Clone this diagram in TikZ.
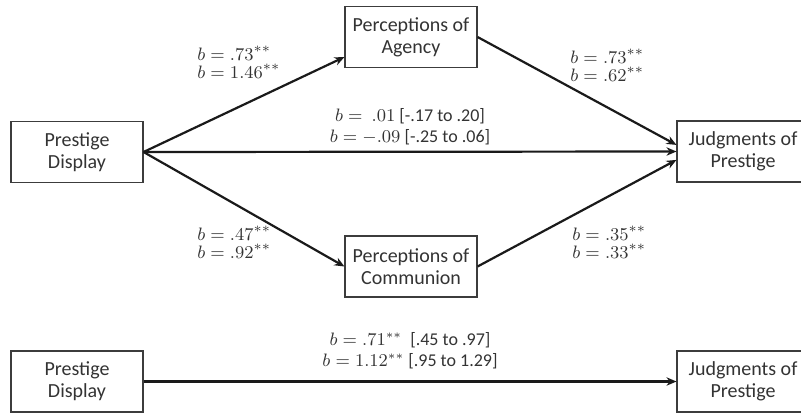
\documentclass[tikz,border=0pt]{standalone}
\usepackage[no-math]{fontspec}
\setmainfont{Carlito}
\usepackage{amsmath}
\usetikzlibrary{arrows.meta,positioning,calc}
\definecolor{pathln}{HTML}{1A1A1A}
\definecolor{boxln}{HTML}{3C3C3C}
\definecolor{boxtx}{HTML}{333333}
\begin{document}
\begin{tikzpicture}[x=0.5pt,y=-0.5pt,>=Stealth,
  var/.style={draw=boxln,line width=0.55pt,minimum width=66pt,minimum height=30.5pt,
    align=center,inner sep=0pt,text=boxtx,font=\fontsize{10}{11}\selectfont},
  ed/.style={->,pathln,line width=1.1pt,-{Stealth[length=5pt,width=4.2pt]}},
  lb/.style={inner sep=1pt,text=boxtx,font=\fontsize{9.5}{9}\selectfont},
  ci/.style={inner sep=1pt,text=boxtx,font=\fontsize{9}{10.5}\selectfont,align=center}]
\useasboundingbox (0,0) rectangle (801,413);
% upper panel: mediation model
\node[var] (pd) at (77,152) {Prestige\\Display};
\node[var] (ag) at (411,37) {Perceptions of\\Agency};
\node[var] (co) at (411,266.5) {Perceptions of\\Communion};
\node[var] (jp) at (743,151.5) {Judgments of\\Prestige};

\draw[ed] (pd.east) -- ([yshift=-10pt]ag.west);
\draw[ed] (ag.east) -- ([yshift=3.3pt]jp.west);
\draw[ed] (pd.east) -- node[ci,above=2pt]{$b = \ .01$ [-.17 to .20]\\$b = -.09$ [-.25 to .06]} (jp.west);
\draw[ed] (pd.east) -- (co.west);
\draw[ed] (co.east) -- ([yshift=-4.2pt]jp.west);

\node[lb,anchor=west,align=left] (pdag) at (195,62) {$b = .73^{**}$\\$b = 1.46^{**}$};
\node[lb,anchor=west,align=left] (agjp) at (568,65) {$b = .73^{**}$\\$b = .62^{**}$};
\node[lb,anchor=west,align=left] (pdco) at (195,242) {$b = .47^{**}$\\$b = .92^{**}$};
\node[lb,anchor=west,align=left] (cojp) at (570,242) {$b = .35^{**}$\\$b = .33^{**}$};

% lower panel: total effect
\node[var] (pdt) at (77,381.5) {Prestige\\Display};
\node[var] (jpt) at (743,381.5) {Judgments of\\Prestige};
\draw[ed] (pdt.east) -- node[ci,above=4.5pt]{$b = .71^{**}$\ \ [.45 to .97]\\$b = 1.12^{**}$ [.95 to 1.29]} (jpt.west);
\end{tikzpicture}
\end{document}
